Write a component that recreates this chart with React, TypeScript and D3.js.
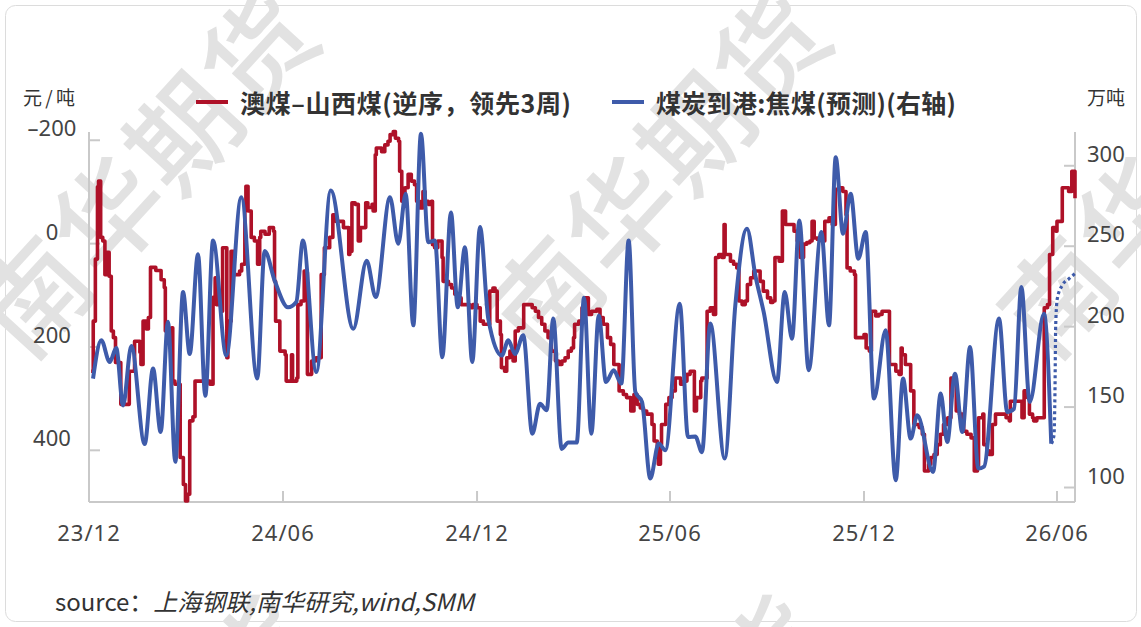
import React from "react";
import * as d3 from "d3";

// ---------- data ----------
const START = new Date(2023, 11, 1);
const END_DAY = 930; // last day shown (~2026-06-18)
const xTickDates = ["2023-12-01", "2024-06-01", "2024-12-01", "2025-06-01", "2025-12-01", "2026-06-01"];
const leftTicks = [-200, 0, 200, 400];
const rightTicks = [100, 150, 200, 250, 300];
const seriesNames = ["澳煤–山西煤(逆序，领先3周)", "煤炭到港:焦煤(预测)(右轴)"];
const leftUnit = "元/吨";
const rightUnit = "万吨";
const sourceLabel = "source：";
const sourceText = "上海钢联,南华研究,wind,SMM";
const watermark = "南华期货";

// [days since 2023-12-01, 元/吨]
const spread: [number, number][] = [
  [2,247],[4,150],[6,30],[8,-110],[9,-121],[11,-12],[13,-5],[15,60],[17,17],[19,63],[21,169],[23,182],[25,230],[30,311],[38,247],[43,189],[48,210],[49,234],[51,150],[54,165],[56,143],[58,46],[63,52],[68,70],[71,85],[72,169],[78,163],[79,266],[81,272],[86,414],[89,466],[91,498],[93,485],[95,343],[98,335],[100,266],[110,266],[114,272],[117,104],[119,66],[120,118],[125,131],[126,8],[130,221],[131,150],[134,15],[137,60],[142,53],[144,40],[147,-70],[148,-111],[150,-63],[153,-12],[156,-5],[159,40],[161,-12],[162,-24],[166,-18],[170,-31],[174,-24],[175,73],[176,150],[180,208],[185,215],[186,266],[191,215],[192,266],[196,260],[197,118],[200,111],[203,53],[205,56],[206,253],[210,227],[214,221],[219,60],[222,8],[227,-12],[230,-56],[233,-43],[237,-43],[240,-31],[245,21],[246,15],[248,-79],[251,-76],[254,-5],[256,-31],[259,-31],[261,-79],[263,-70],[267,-76],[268,-63],[270,-172],[271,-185],[276,-178],[279,-191],[282,-198],[284,-211],[287,-217],[289,-204],[292,-198],[293,-140],[295,-82],[298,-108],[301,-134],[304,-121],[307,-114],[309,-82],[312,-69],[315,-101],[317,-82],[320,-76],[323,-82],[324,2],[326,8],[329,-5],[333,27],[334,73],[339,79],[342,86],[345,98],[348,105],[351,118],[359,124],[362,118],[366,124],[369,150],[372,156],[378,92],[381,86],[383,92],[385,150],[388,176],[389,240],[392,247],[394,221],[397,208],[400,227],[402,169],[405,163],[410,118],[418,124],[421,131],[424,143],[427,156],[430,169],[433,182],[436,208],[440,227],[443,234],[446,227],[449,221],[452,208],[455,202],[457,182],[458,156],[462,150],[465,124],[468,105],[471,137],[474,131],[479,127],[482,143],[485,156],[489,182],[492,195],[495,234],[500,285],[504,292],[507,298],[511,324],[514,292],[517,311],[520,318],[523,324],[526,330],[531,350],[533,382],[536,414],[537,427],[539,389],[540,350],[544,311],[547,298],[550,285],[553,260],[558,272],[561,266],[564,253],[567,247],[571,324],[573,298],[577,266],[578,260],[583,131],[586,124],[589,137],[591,27],[594,21],[597,27],[599,-37],[600,21],[605,34],[608,40],[611,47],[613,111],[616,118],[619,111],[621,79],[624,66],[627,53],[630,53],[633,73],[636,92],[640,105],[643,114],[645,111],[647,27],[651,34],[654,-63],[657,-37],[661,-37],[665,-24],[668,-5],[671,27],[674,1],[677,-2],[680,-5],[682,-43],[684,-11],[687,-8],[691,-5],[694,-43],[698,-50],[701,-37],[704,-105],[707,-108],[711,-101],[714,-56],[715,47],[718,53],[722,60],[723,182],[731,176],[733,202],[736,208],[738,131],[742,140],[745,137],[748,131],[753,131],[755,234],[761,247],[764,253],[766,202],[767,215],[770,234],[773,234],[775,285],[778,350],[783,356],[786,369],[788,440],[791,440],[792,427],[794,414],[797,408],[800,389],[803,369],[806,350],[810,337],[813,260],[816,260],[818,324],[821,330],[824,337],[825,363],[828,369],[832,376],[835,440],[838,434],[839,337],[843,330],[844,389],[847,401],[849,408],[852,350],[855,330],[860,330],[865,337],[868,343],[869,305],[877,305],[880,337],[882,285],[885,298],[887,330],[890,337],[891,343],[894,337],[899,337],[901,124],[904,118],[906,21],[909,-31],[912,-24],[913,-43],[916,-43],[918,-108],[923,-108],[924,-101],[927,-140],[929,-140],[930,-88]
];

// [days since 2023-12-01, 万吨]
const arrivals: [number, number][] = [
  [3.8,167.7],[11.6,191.5],[19.5,178],[25.7,186.7],[32.1,151],[39.9,188],[52.5,127],[60.4,174],[67.6,134.5],[74.5,203],[81.4,116],[88.7,221.5],[95.0,183],[102.8,245],[109.7,157],[117.0,253.6],[129.5,182],[143.6,280.5],[158.7,167.7],[165.7,247],[175.2,228.5],[187.7,212],[195.5,215.3],[201.8,253.6],[214.4,171.8],[228.0,284.7],[249.3,198.7],[261.9,241],[270.4,218.4],[283.9,280.5],[291.7,251.5],[298.7,282.6],[305.9,200.8],[313.1,319.9],[320.0,252.5],[326.3,253.6],[333.2,181],[341.4,271],[347.8,212],[354.6,249.4],[361.5,178],[368.8,262],[376.6,205],[389.3,182],[395.5,191.5],[401.8,183],[409.6,194.6],[418.1,133.5],[425.4,152],[431.7,148],[437.9,205],[445.8,124],[452.1,128],[460.0,128],[466.9,218],[473.8,133.5],[480.8,207],[487.6,165.6],[494.9,172.9],[502.1,164.6],[509.0,253.6],[515.3,159.4],[521.6,153.2],[529.4,105.6],[537.3,127.3],[543.6,123.2],[557.2,214.3],[565.0,131.4],[571.9,131.7],[578.2,122],[586.0,201.9],[599.6,118],[609.6,213.2],[620.6,260.9],[628.5,231.9],[636.4,209],[648.9,165.6],[656.2,221.5],[663.1,192.5],[670.0,266],[678.8,172.9],[690.7,258.8],[698.0,200.8],[704.3,305.3],[711.2,257.8],[718.4,282.6],[725.6,242.2],[732.6,258.8],[740.4,155.3],[751.4,197.7],[760.9,104.5],[767.8,167.7],[775.0,130.4],[781.2,144.9],[796.1,109.7],[803.3,158.4],[809.5,128.3],[816.8,170.8],[823.7,134.5],[831.0,187.3],[838.8,111.8],[844.2,113],[858.3,205],[866.1,147],[872.5,149],[879.4,224.6],[887.3,153.2],[900.8,208],[907.6,127.3]
];

// forecast part (dotted)
const arrivalsForecast: [number, number][] = [
  [907.6,127.3],[910.2,132.5],[911.1,159.4],[911.8,200.8],[913.3,217.4],[918.0,225.7],[924.3,229.8],[930,233]
];

// ---------- layout ----------
const W = 1141;
const H = 627;
const PLOT = { left: 89, right: 1075, top: 132, bottom: 502 };
const RED = "#AE1128";
const BLUE = "#3E5BAA";
const AXIS = "#c9c9c9";
const NUM_FONT = "'Noto Sans', 'Noto Sans CJK SC', sans-serif";
const CJK_FONT = "'Noto Sans CJK SC', 'Noto Sans', sans-serif";

const dayToDate = (d: number) => new Date(START.getTime() + d * 86400000);

export default function App() {
  const x = d3.scaleTime().domain([START, dayToDate(END_DAY)]).range([PLOT.left, PLOT.right]);
  const yL = d3.scaleLinear().domain([-216, 500]).range([PLOT.top, PLOT.bottom]); // inverted axis
  const yR = d3.scaleLinear().domain([91, 321]).range([PLOT.bottom, PLOT.top]);
  const fmt = d3.timeFormat("%y/%m");

  const redPath = d3
    .line<[number, number]>()
    .x((d) => x(dayToDate(d[0])))
    .y((d) => yL(d[1]))
    .curve(d3.curveStepAfter)(spread) || "";
  const bluePath = d3
    .line<[number, number]>()
    .x((d) => x(dayToDate(d[0])))
    .y((d) => yR(d[1]))
    .curve(d3.curveMonotoneX)(arrivals) || "";
  const forecastPath = d3
    .line<[number, number]>()
    .x((d) => x(dayToDate(d[0])))
    .y((d) => yR(d[1]))
    .curve(d3.curveMonotoneX)(arrivalsForecast) || "";

  const wmStarts = [
    [27, 364], [539, 364], [1051, 364],
    [27, 969], [539, 969], [1051, 969],
  ];

  return (
    <svg
      width={W}
      height={H}
      style={{ position: "absolute", left: 0, top: 0, background: "#fff" }}
    >
      <rect x={5.5} y={5.5} width={W - 10} height={H - 11} rx={10} fill="#fff" stroke="#dcdcdc" strokeWidth={1} />

      {/* watermark */}
      <g fill="#e2e2e2" fontFamily={CJK_FONT} fontSize={108} fontWeight={500} style={{ letterSpacing: "3px" }}>
        {wmStarts.map(([wx, wy], i) => (
          <text key={i} x={wx} y={wy} transform={`rotate(-47.5 ${wx} ${wy})`}>
            {watermark}
          </text>
        ))}
      </g>

      {/* axes */}
      <g stroke={AXIS} strokeWidth={2} fill="none">
        <line x1={PLOT.left} x2={PLOT.left} y1={PLOT.top} y2={PLOT.bottom} />
        <line x1={PLOT.right} x2={PLOT.right} y1={PLOT.top} y2={PLOT.bottom} />
        <line x1={PLOT.left} x2={PLOT.right} y1={PLOT.bottom} y2={PLOT.bottom} />
        {leftTicks.map((t) => (
          <line key={"lt" + t} x1={PLOT.left} x2={PLOT.left + 11} y1={yL(t)} y2={yL(t)} />
        ))}
        {rightTicks.map((t) => (
          <line key={"rt" + t} x1={PLOT.right - 11} x2={PLOT.right} y1={yR(t)} y2={yR(t)} />
        ))}
        {xTickDates.map((s) => {
          const xx = x(new Date(s + "T00:00:00"));
          return <line key={"xt" + s} x1={xx} x2={xx} y1={PLOT.bottom - 11} y2={PLOT.bottom} />;
        })}
      </g>

      {/* tick labels */}
      <g fontFamily={NUM_FONT} fontSize={22} fill="#444">
        {leftTicks.map((t) => (
          <text key={"ll" + t} x={52} y={yL(t) - 13} textAnchor="middle" dominantBaseline="central">
            {t < 0 ? "–" + Math.abs(t) : String(t)}
          </text>
        ))}
        {rightTicks.map((t) => (
          <text key={"rl" + t} x={1087} y={yR(t) - 13} dominantBaseline="central">
            {t}
          </text>
        ))}
        {xTickDates.map((s) => {
          const d = new Date(s + "T00:00:00");
          return (
            <text key={"xl" + s} x={x(d)} y={532} textAnchor="middle" dominantBaseline="central" style={{ letterSpacing: "1px" }}>
              {fmt(d)}
            </text>
          );
        })}
      </g>

      {/* units */}
      <text x={23} y={96} fontFamily={CJK_FONT} fontSize={19} fill="#333" dominantBaseline="central" textLength={52} lengthAdjust="spacing">
        {leftUnit}
      </text>
      <text x={1087} y={96} fontFamily={CJK_FONT} fontSize={19} fill="#333" dominantBaseline="central">
        {rightUnit}
      </text>

      {/* lines */}
      <path d={redPath} fill="none" stroke={RED} strokeWidth={3.6} strokeLinejoin="round" />
      <path d={bluePath} fill="none" stroke={BLUE} strokeWidth={4} strokeLinejoin="round" />
      <path d={forecastPath} fill="none" stroke={BLUE} strokeWidth={3.2} strokeDasharray="3 3" />

      {/* legend */}
      <g fontFamily={CJK_FONT} fontSize={25} fontWeight={700} fill="#333">
        <line x1={196} x2={228} y1={102} y2={102} stroke={RED} strokeWidth={4} />
        <text x={240} y={102} dominantBaseline="central" textLength={331} lengthAdjust="spacing">{seriesNames[0]}</text>
        <line x1={612} x2={644} y1={102} y2={102} stroke={BLUE} strokeWidth={4} />
        <text x={656} y={102} dominantBaseline="central" textLength={300} lengthAdjust="spacing">{seriesNames[1]}</text>
      </g>

      {/* source */}
      <text x={55} y={600} fontFamily={CJK_FONT} fontSize={24} fill="#333" dominantBaseline="central">
        {sourceLabel}
        <tspan fontStyle="italic">{sourceText}</tspan>
      </text>
    </svg>
  );
}
